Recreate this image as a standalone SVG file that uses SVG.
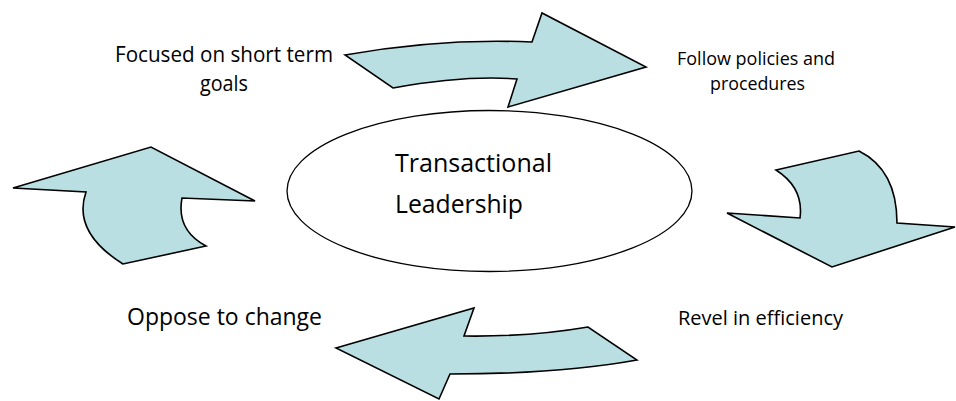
<svg xmlns="http://www.w3.org/2000/svg" width="956" height="401" viewBox="0 0 956 401">
<style>
.arrow{fill:#B9DFE2;stroke:#000;stroke-width:1.6;stroke-linejoin:miter}
.node{fill:#fff;stroke:#000;stroke-width:1.3}
text{font-family:"Open Sans","Liberation Sans",sans-serif;fill:#000}
</style>
<rect width="956" height="401" fill="#fff"/>
<g id="connectors">
<path id="arrow-top" class="arrow" d="M345,55 Q440,38 532,42 L542,13 L646,67 L508,107 L517,79 Q465,75 393,88 Z"/>
<path id="arrow-right" class="arrow" d="M776,170 L859,151 Q897,170 897,223 L955,227 L832,267 L727,213 L800,218 Q804,188 776,170 Z"/>
<path id="arrow-bottom" class="arrow" d="M336,348 L474,308 L464,336 Q530,337 588,327 L637,360 Q560,374 450,374 L439,399 Z"/>
<path id="arrow-left" class="arrow" d="M13,188 L151,147 L255,201 L182,198 Q176,230 206,246 L123,264 Q72,232 86,192 Z"/>
</g>
<g id="node-center">
<ellipse class="node" cx="489.5" cy="191" rx="202.5" ry="80.5"/>
<text x="395" y="171.5" font-size="26" textLength="157" lengthAdjust="spacingAndGlyphs">Transactional</text>
<text x="395" y="212.5" font-size="26" textLength="128" lengthAdjust="spacingAndGlyphs">Leadership</text>
</g>
<g id="label-short-term">
<text x="115" y="61.5" font-size="21" textLength="218" lengthAdjust="spacingAndGlyphs">Focused on short term</text>
<text x="200" y="91" font-size="21" textLength="48" lengthAdjust="spacingAndGlyphs">goals</text>
</g>
<g id="label-policies">
<text x="677" y="64.5" font-size="18" textLength="158" lengthAdjust="spacingAndGlyphs">Follow policies and</text>
<text x="710" y="90" font-size="18" textLength="95" lengthAdjust="spacingAndGlyphs">procedures</text>
</g>
<g id="label-efficiency">
<text x="678" y="325" font-size="20.5" textLength="165" lengthAdjust="spacingAndGlyphs">Revel in efficiency</text>
</g>
<g id="label-change">
<text x="127" y="325" font-size="23" textLength="195" lengthAdjust="spacingAndGlyphs">Oppose to change</text>
</g>
</svg>
